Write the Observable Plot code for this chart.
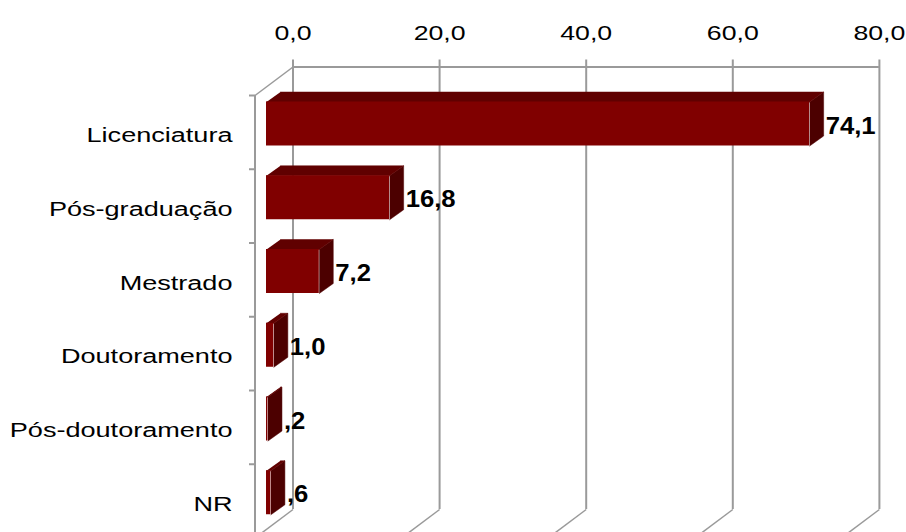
<!DOCTYPE html>
<html><head><meta charset="utf-8">
<script src="https://cdn.jsdelivr.net/npm/d3@7"></script>
<script src="https://cdn.jsdelivr.net/npm/@observablehq/plot@0.6"></script>
<style>
html,body{margin:0;padding:0;background:#fff;overflow:hidden;}
#chart svg{display:block;}
</style></head><body><div id="chart"></div>
<script>
// ---- data ----
const categories = ["Licenciatura", "Pós-graduação", "Mestrado", "Doutoramento", "Pós-doutoramento", "NR"];
const values = [74.1, 16.8, 7.2, 1.0, 0.2, 0.6];
const valueLabels = ["74,1", "16,8", "7,2", "1,0", ",2", ",6"];
const xTicks = [0, 20, 40, 60, 80];
const xTickLabels = ["0,0", "20,0", "40,0", "60,0", "80,0"];

// ---- layout ----
const W = 906, H = 532;
const XR = [266, 852.4];           // x range (bar front plane)
const YR = [95, 537.5];            // y range (front plane, 6 bands)
const kx = (XR[1] - XR[0]) / 80;   // px per unit
const ky = (YR[1] - YR[0]) / 6;    // px per band
const FRONT = -11.5;               // wall front plane offset (px)
const BACK = [26.5, -28.5];        // back wall offset (px)
const bdx = 14 / kx, bdy = 10 / ky; // bar depth in data units
const barTop = 6.5 / ky, barBot = 50.5 / ky;
const font = "'Liberation Sans', Arial, sans-serif";

const rows = categories.map((c, i) => ({c, i, v: values[i], label: valueLabels[i]}));
const poly = (r, pts) => pts.map(([x, y]) => ({id: r.i, x, y}));
const topFaces = rows.flatMap(r => poly(r, [
  [0, r.i + barTop], [r.v, r.i + barTop], [r.v + bdx, r.i + barTop - bdy], [bdx, r.i + barTop - bdy]]));
const sideFaces = rows.flatMap(r => poly(r, [
  [r.v, r.i + barTop], [r.v + bdx, r.i + barTop - bdy], [r.v + bdx, r.i + barBot - bdy], [r.v, r.i + barBot]]));
const ticks = xTicks.map((t, i) => ({t, label: xTickLabels[i]}));
const grid = "#9a9a9a";

const chart = Plot.plot({
  width: W, height: H,
  marginTop: 0, marginRight: 0, marginBottom: 0, marginLeft: 0,
  style: {fontFamily: font, background: "#fff", color: "#000"},
  x: {domain: [0, 80], range: XR, axis: null},
  y: {domain: [0, 6], range: YR, axis: null},
  marks: [
    // back wall gridlines with tick stubs
    Plot.ruleX(xTicks, {x: d => d, y1: -7 / ky, y2: 6, dx: BACK[0], dy: BACK[1], stroke: grid, strokeWidth: 2}),
    // back wall top edge
    Plot.ruleY([0], {x1: 0, x2: 80, dx: BACK[0], dy: BACK[1], stroke: grid, strokeWidth: 2}),
    // floor slanted lines
    Plot.link(xTicks, {x1: d => d + (BACK[0] - FRONT) / kx, y1: 6 + BACK[1] / ky, x2: d => d, y2: 6, dx: FRONT, stroke: grid, strokeWidth: 1.5}),
    // left wall top slanted edge
    Plot.link([0], {x1: (BACK[0] - FRONT) / kx, y1: BACK[1] / ky, x2: 0, y2: 0, dx: FRONT, stroke: grid, strokeWidth: 1.5}),
    // left wall front edge
    Plot.ruleX([0], {x: d => d, y1: 0, y2: 6, dx: FRONT, stroke: grid, strokeWidth: 2}),
    // category ticks
    Plot.link([0, 1, 2, 3, 4, 5, 6], {x1: 0, x2: -6 / kx, y1: d => d, y2: d => d, dx: FRONT, stroke: grid, strokeWidth: 2}),
    // bars: side, top, front
    Plot.line(sideFaces, {x: "x", y: "y", z: "id", fill: "#4c0000", stroke: "#4c0000", strokeWidth: 0.5, curve: "linear"}),
    Plot.line(topFaces, {x: "x", y: "y", z: "id", fill: "#600000", stroke: "#600000", strokeWidth: 0.5, curve: "linear"}),
    Plot.rect(rows, {x1: 0, x2: "v", y1: d => d.i + barTop, y2: d => d.i + barBot, fill: "#800000"}),
    // value labels
    Plot.text(rows, {x: "v", y: d => d.i + (barTop + barBot) / 2, text: "label", textAnchor: "start", lineAnchor: "middle",
      dx: 16, dy: 2, fontSize: 24, fontWeight: "bold", fill: "#000", ariaDescription: "values"}),
    // category labels
    Plot.text(rows, {x: 0, y: d => d.i + 0.5, text: "c", textAnchor: "end", lineAnchor: "middle",
      dx: -34, dy: 3, fontSize: 21, fill: "#000", ariaDescription: "cats"}),
    // x tick labels
    Plot.text(ticks, {x: "t", text: "label", frameAnchor: "top", lineAnchor: "middle", dx: BACK[0], dy: 33,
      fontSize: 21, fill: "#000", ariaDescription: "xticks"})
  ]
});
document.getElementById("chart").appendChild(chart);
// horizontal stretch of text glyphs (reference text is wide), scaled about each anchor
const stretch = (name, s) => {
  chart.querySelectorAll(`g[aria-description="${name}"] text`).forEach(t => {
    let x = parseFloat(t.getAttribute("x"));
    if (!isFinite(x)) x = 0;
    const tr = t.getAttribute("transform") || "";
    t.setAttribute("transform", `${tr} translate(${x},0) scale(${s},1) translate(${-x},0)`);
  });
};
stretch("cats", 1.29);
stretch("xticks", 1.27);
stretch("values", 1.07);
</script>
</body></html>
